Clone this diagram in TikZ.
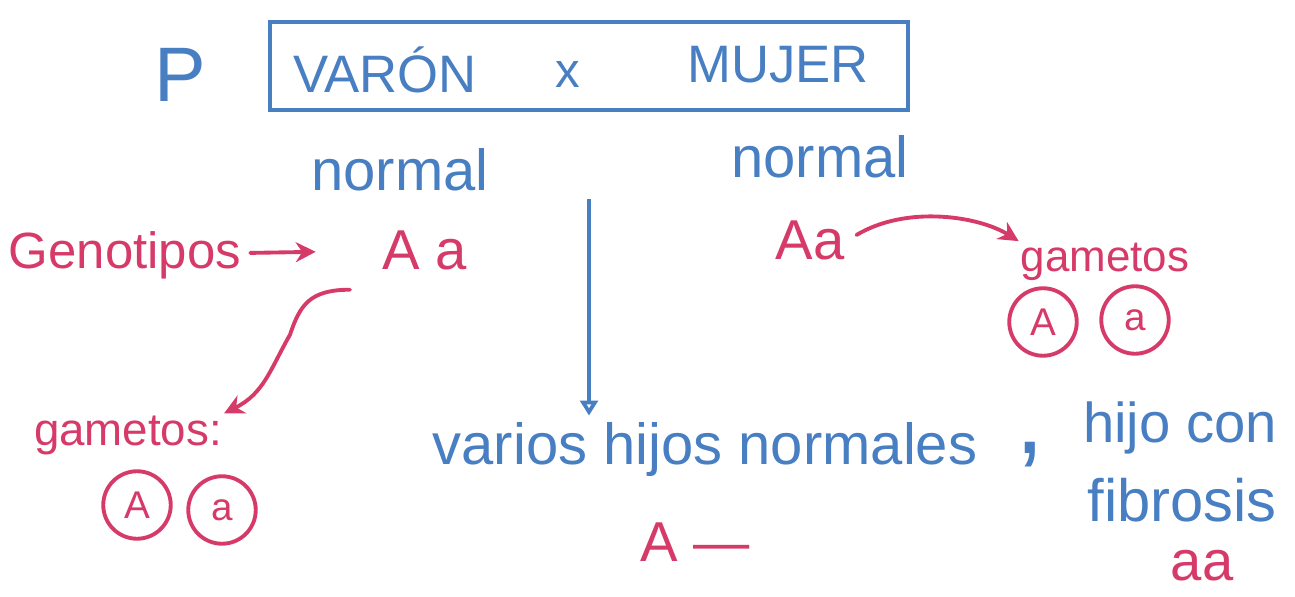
\documentclass[tikz,border=0pt]{standalone}
\usepackage{fontspec}
\setmainfont{Liberation Sans}
\usetikzlibrary{arrows.meta,positioning}
\definecolor{penBlue}{RGB}{72,126,194}
\definecolor{penRed}{RGB}{214,58,104}
\newcommand{\pensize}[1]{\fontsize{#1}{#1}\selectfont}
\tikzset{
  bluetxt/.style = {text=penBlue, inner sep=1pt},
  redtxt/.style  = {text=penRed, inner sep=1pt},
  allele/.style  = {draw=penRed, circle, line width=2.2pt, minimum size=1.35cm,
                    text=penRed, font=\pensize{22}, inner sep=0pt},
  crossbox/.style = {draw=penBlue, line width=2.2pt, minimum width=12.76cm,
                    minimum height=1.76cm},
  arrb/.style    = {-{Triangle[open,length=3mm,width=3.5mm]}, penBlue, line width=2.2pt},
  arrr/.style    = {-{Stealth[length=4mm,width=4mm]}, penRed, line width=2.2pt,
                    line cap=round}
}

\begin{document}
\begin{tikzpicture}[x=0.02cm,y=-0.02cm]
\useasboundingbox (0,0) rectangle (1295,597);
% parents
\node[bluetxt, font=\pensize{44}] (P) at (180,75) {P};
\node[crossbox] (cross) at (589,66) {};
\node[bluetxt, font=\pensize{30}] (varon) at (385,70) {VARÓN};
\node[bluetxt, font=\pensize{28}] (times) at (568,75) {x};
\node[bluetxt, font=\pensize{30}] (mujer) at (778,65) {MUJER};
\node[bluetxt, font=\pensize{33}] (normL) at (400,170) {normal};
\node[bluetxt, font=\pensize{33}] (normR) at (820,157) {normal};
% genotypes and gametes
\node[redtxt, font=\pensize{29}] (geno) at (125,255) {Genotipos};
\node[redtxt, font=\pensize{32}] (aaL) at (425,250) {A a};
\node[redtxt, font=\pensize{32}] (aaR) at (810,240) {Aa};
\node[redtxt, font=\pensize{25}] (gamR) at (1105,262) {gametos};
\node[allele] (gRA) at (1043,322) {A};
\node[allele] (gRa) at (1135,320) {a};
\node[redtxt, font=\pensize{26}] (gamL) at (128,435) {gametos:};
\node[allele] (gLA) at (137,505) {A};
\node[allele] (gLa) at (222,510) {a};
% offspring
\node[bluetxt, font=\pensize{33}] (hijos) at (705,450) {varios hijos normales};
\node[bluetxt, font=\pensize{60}] (comma) at (1030,455) {,};
\node[bluetxt, font=\pensize{32}] (hijo) at (1180,428) {hijo con};
\node[bluetxt, font=\pensize{34}] (fibro) at (1182,500) {fibrosis};
\node[redtxt, font=\pensize{32}] (aaC) at (1202,566) {aa};
\node[redtxt, font=\pensize{32}] (domi) at (695,542) {A —};

\draw[arrr, shorten <=4pt, shorten >=1.3cm] (geno) -- (aaL);
\draw[arrr] (aaL.south) ++(-75,18)
  .. controls +(-40,0) and +(10,-30) .. +(-60,45)
  .. controls +(-20,35) and +(40,-20) .. (gamL.north east);
\draw[arrr] (aaR.east) ++(10,-5)
  .. controls +(50,-30) and +(-40,-25) .. (gamR.north west);
\draw[arrb, shorten <=1.75cm, shorten >=3pt] (cross.south) -- (cross.south |- hijos.north);
\end{tikzpicture}
\end{document}
